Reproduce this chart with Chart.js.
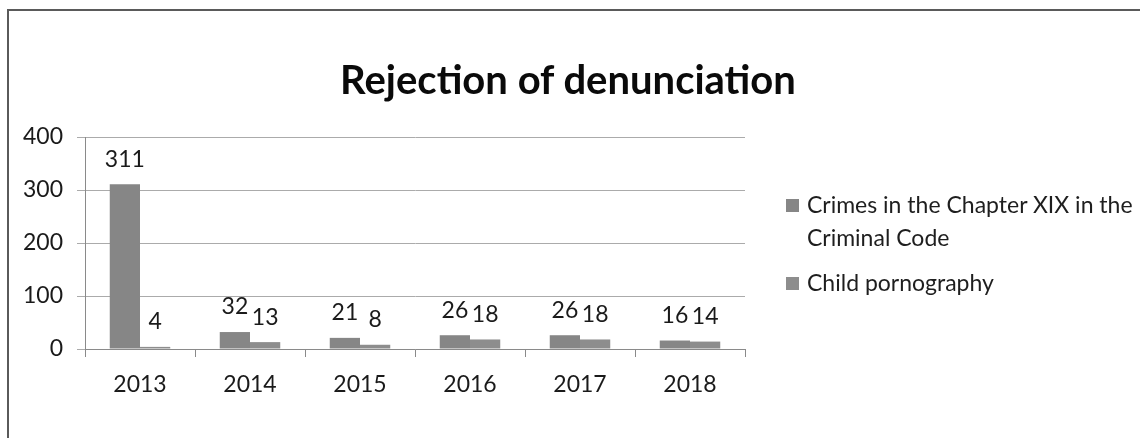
<!DOCTYPE html>
<html>
<head>
<meta charset="utf-8">
<script src="https://cdn.jsdelivr.net/npm/chart.js@4.4.1/dist/chart.umd.min.js"></script>
<style>
  body { margin: 0; background: #fff; }
  #wrap { position: relative; width: 1140px; height: 438px; overflow: hidden; font-family: Lato, "Open Sans", sans-serif; }
  #frame { position: absolute; left: 7px; top: 9px; width: 1200px; height: 500px; border: 2px solid #5a5a5a; box-sizing: border-box; }
  #title { position: absolute; left: 568px; top: 55px; transform: translateX(-50%); white-space: nowrap;
           font-size: 40px; font-weight: bold; color: #0a0a0a; }
  #legend { position: absolute; left: 786px; top: 188px; color: #1e1e1e; font-size: 23px; line-height: 33px; }
  .item { position: relative; padding-left: 21px; margin-bottom: 12px; }
  .box { position: absolute; left: 0; top: 11px; width: 13px; height: 13px; }
  canvas { position: absolute; left: 0; top: 0; }
</style>
</head>
<body>
<div id="wrap">
  <div id="frame"></div>
  <canvas id="chart" width="1140" height="438"></canvas>
  <div id="title">Rejection of denunciation</div>
  <div id="legend"></div>
</div>
<script>
const years = ['2013', '2014', '2015', '2016', '2017', '2018'];
const crimesChapterXIX = [311, 32, 21, 26, 26, 16];
const childPornography = [4, 13, 8, 18, 18, 14];
const seriesNames = ['Crimes in the Chapter XIX in the Criminal Code', 'Child pornography'];
const legendLines = [['Crimes in the Chapter XIX in the', 'Criminal Code'], ['Child pornography']];
const seriesColors = ['#868686', '#8d8d8d'];
const yTicks = [0, 100, 200, 300, 400];

// legend built as html
const legend = document.getElementById('legend');
legendLines.forEach((lines, i) => {
  const item = document.createElement('div');
  item.className = 'item';
  item.innerHTML = `<span class="box" style="background:${seriesColors[i]}"></span>${lines.join('<br>')}`;
  legend.appendChild(item);
});

// value labels above each bar
const valueLabels = {
  id: 'valueLabels',
  afterDatasetsDraw(chart) {
    const ctx = chart.ctx;
    ctx.save();
    ctx.font = '23px Lato, "Open Sans", sans-serif';
    ctx.fillStyle = '#1a1a1a';
    ctx.textAlign = 'center';
    ctx.textBaseline = 'middle';
    chart.data.datasets.forEach((ds, i) => {
      chart.getDatasetMeta(i).data.forEach((bar, j) => {
        ctx.fillText(ds.data[j], bar.x, bar.y - 25);
      });
    });
    ctx.restore();
  }
};

new Chart(document.getElementById('chart'), {
  type: 'bar',
  data: {
    labels: years,
    datasets: [
      { label: seriesNames[0], data: crimesChapterXIX, backgroundColor: seriesColors[0] },
      { label: seriesNames[1], data: childPornography, backgroundColor: seriesColors[1] }
    ]
  },
  options: {
    responsive: false,
    animation: false,
    layout: { padding: { left: 8, right: 395, top: 137, bottom: 0 } },
    datasets: { bar: { categoryPercentage: 0.55, barPercentage: 1.0 } },
    plugins: { legend: { display: false }, tooltip: { enabled: false } },
    scales: {
      x: {
        afterFit(scale) { scale.height = 89; },
        grid: { drawOnChartArea: false, tickLength: 8, color: '#8a8a8a' },
        border: { color: '#8a8a8a' },
        ticks: { color: '#1a1a1a', padding: 14, font: { family: 'Lato', size: 23 } }
      },
      y: {
        min: 0,
        max: 400,
        afterFit(scale) { scale.width = 77; },
        afterBuildTicks(scale) { scale.ticks = yTicks.map(v => ({ value: v })); },
        grid: { color: '#ababab', tickLength: 8 },
        border: { color: '#8a8a8a' },
        ticks: { color: '#1a1a1a', padding: 14, font: { family: 'Lato', size: 23 } }
      }
    }
  },
  plugins: [valueLabels]
});
</script>
</body>
</html>
